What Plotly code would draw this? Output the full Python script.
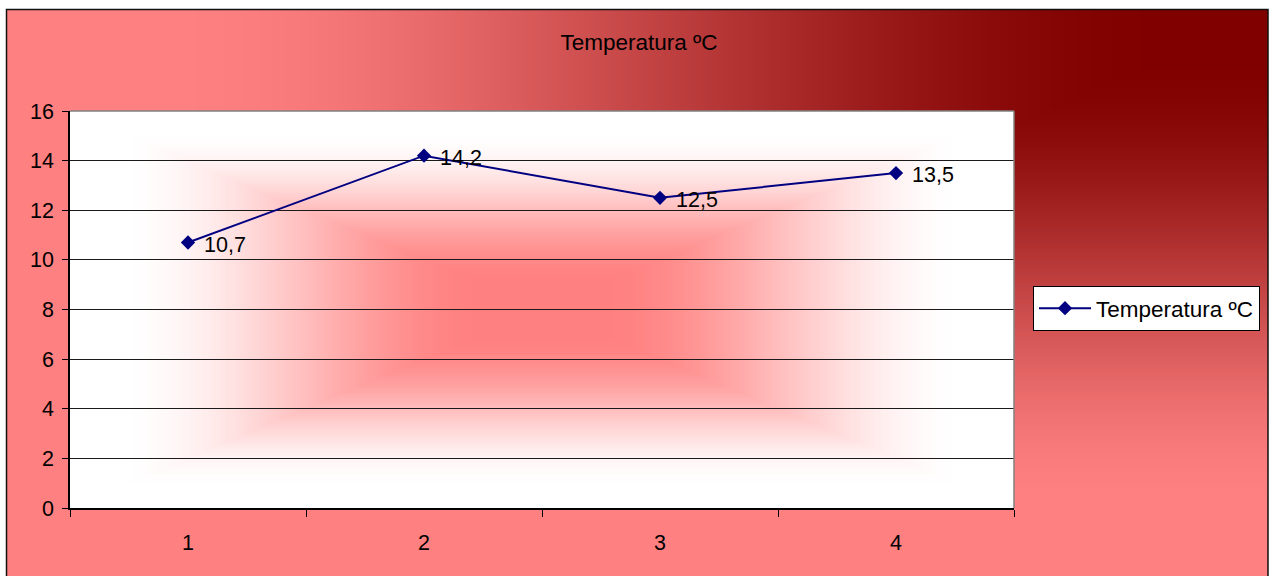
import base64
import struct
import zlib

import numpy as np
import plotly.graph_objects as go

# ---- data -------------------------------------------------------------
categories = ["1", "2", "3", "4"]
temperatures = [10.7, 14.2, 12.5, 13.5]
series_name = "Temperatura ºC"
chart_title = "Temperatura ºC"
y_ticks = list(range(0, 17, 2))

# ---- figure geometry (pixels) -----------------------------------------
W, H = 1274, 576
PLOT_L, PLOT_R, PLOT_T, PLOT_B = 70, 1014, 111, 508
FRAME_L, FRAME_R, FRAME_T, FRAME_B = 6.5, 1268, 9.5, 580

FONT = "Arial, Liberation Sans, sans-serif"
NAVY = "#000080"


def px_to_paper_x(px):
    return (px - PLOT_L) / (PLOT_R - PLOT_L)


def px_to_paper_y(py):
    return (PLOT_B - py) / (PLOT_B - PLOT_T)


def smoothstep(a, b, t):
    s = np.clip((t - a) / (b - a), 0.0, 1.0)
    return s * s * (3 - 2 * s)


def png_uri(rgb):
    """Encode an HxWx3 uint8 array as a PNG data URI."""
    h, w, _ = rgb.shape
    raw = b"".join(b"\x00" + rgb[row].tobytes() for row in range(h))

    def chunk(tag, data):
        body = tag + data
        return struct.pack(">I", len(data)) + body + struct.pack(">I", zlib.crc32(body) & 0xFFFFFFFF)

    png = (b"\x89PNG\r\n\x1a\n"
           + chunk(b"IHDR", struct.pack(">IIBBBBB", w, h, 8, 2, 0, 0, 0))
           + chunk(b"IDAT", zlib.compress(raw, 9))
           + chunk(b"IEND", b""))
    return "data:image/png;base64," + base64.b64encode(png).decode()


def lerp_colors(c0, c1, f):
    c0 = np.array(c0, float)
    c1 = np.array(c1, float)
    out = c0 + (c1 - c0) * f[..., None]
    return np.clip(out + 0.5, 0, 255).astype(np.uint8)


# chart area: "from corner" gradient, dark in the top-right corner
fw, fh = 630, 285
xs = np.linspace(0, 1, fw)
ys = np.linspace(0, 1, fh)
U, V = np.meshgrid(1 - xs, ys)           # distance from right edge / top edge
t_frame = np.maximum(U, V)
frame_img = lerp_colors((128, 0, 0), (255, 128, 128), smoothstep(0.07, 0.88, t_frame))

# plot area: "from centre" gradient, red core fading to white
pw, ph = 472, 200
DX, DY = np.meshgrid(np.abs(np.linspace(-1, 1, pw)), np.abs(np.linspace(-1, 1, ph)))
t_plot = np.maximum(DX, DY)
plot_img = lerp_colors((255, 128, 128), (255, 255, 255), smoothstep(0.12, 0.9, t_plot))

fig = go.Figure()

fig.add_trace(go.Scatter(
    x=categories,
    y=temperatures,
    mode="lines+markers",
    name=series_name,
    line=dict(color=NAVY, width=2),
    marker=dict(symbol="diamond", size=11, color=NAVY),
    hoverinfo="x+y",
))

# value labels to the right of each point (category axis: x is the category index)
for idx, val in enumerate(temperatures):
    fig.add_annotation(
        x=idx, y=val, xref="x", yref="y",
        text=f"{val}".replace(".", ","),
        showarrow=False,
        xanchor="left", yanchor="middle",
        xshift=14, yshift=-2,
        font=dict(family=FONT, size=21.5, color="black"),
    )

fig.update_layout(
    width=W,
    height=H,
    margin=dict(l=PLOT_L, r=W - PLOT_R, t=PLOT_T, b=H - PLOT_B, pad=0),
    paper_bgcolor="white",
    plot_bgcolor="rgba(0,0,0,0)",
    font=dict(family=FONT, size=21.5, color="black"),
    title=dict(
        text=chart_title,
        x=639 / W, xref="container", xanchor="center",
        y=1 - 42 / H, yref="container", yanchor="middle",
        font=dict(family=FONT, size=22.5, color="black"),
    ),
    showlegend=True,
    legend=dict(
        x=px_to_paper_x(1033), xanchor="left",
        y=px_to_paper_y(308.5), yanchor="middle",
        bgcolor="white",
        bordercolor="black",
        borderwidth=1,
        itemwidth=52,
        font=dict(family=FONT, size=22.5, color="black"),
    ),
    xaxis=dict(
        type="category",
        categoryorder="array",
        categoryarray=categories,
        range=[-0.5, len(categories) - 0.5],
        tickson="boundaries",
        ticks="outside",
        ticklen=7,
        tickwidth=1,
        tickcolor="black",
        showgrid=False,
        showline=True,
        linecolor="black",
        linewidth=1.5,
        zeroline=False,
        ticklabelstandoff=14,
        tickfont=dict(family=FONT, size=21.5, color="black"),
        fixedrange=True,
    ),
    yaxis=dict(
        range=[0, 16],
        tickvals=y_ticks,
        ticktext=[str(v) for v in y_ticks],
        ticks="outside",
        ticklen=6,
        tickwidth=1,
        tickcolor="black",
        showgrid=True,
        gridcolor="#1a1a1a",
        gridwidth=1.2,
        showline=True,
        linecolor="black",
        linewidth=1.5,
        zeroline=False,
        ticklabelstandoff=4,
        tickfont=dict(family=FONT, size=21.5, color="black"),
        fixedrange=True,
    ),
    images=[
        dict(
            source=png_uri(frame_img),
            xref="paper", yref="paper",
            x=px_to_paper_x(FRAME_L), y=px_to_paper_y(FRAME_T),
            sizex=px_to_paper_x(FRAME_R) - px_to_paper_x(FRAME_L),
            sizey=px_to_paper_y(FRAME_T) - px_to_paper_y(FRAME_B),
            xanchor="left", yanchor="top",
            sizing="stretch", layer="below",
        ),
        dict(
            source=png_uri(plot_img),
            xref="paper", yref="paper",
            x=0, y=1, sizex=1, sizey=1,
            xanchor="left", yanchor="top",
            sizing="stretch", layer="below",
        ),
    ],
    shapes=[
        # outer chart frame
        dict(type="rect", xref="paper", yref="paper",
             x0=px_to_paper_x(FRAME_L), x1=px_to_paper_x(FRAME_R),
             y0=px_to_paper_y(FRAME_B), y1=px_to_paper_y(FRAME_T),
             line=dict(color="#111111", width=1.5), fillcolor="rgba(0,0,0,0)",
             layer="above"),
        # grey plot-area border on top and right
        dict(type="line", xref="paper", yref="paper", x0=0, x1=1, y0=1, y1=1,
             line=dict(color="#808080", width=1.5), layer="above"),
        dict(type="line", xref="paper", yref="paper", x0=1, x1=1, y0=0, y1=1,
             line=dict(color="#808080", width=1.5), layer="above"),
    ],
)

fig.write_html("out.html")
